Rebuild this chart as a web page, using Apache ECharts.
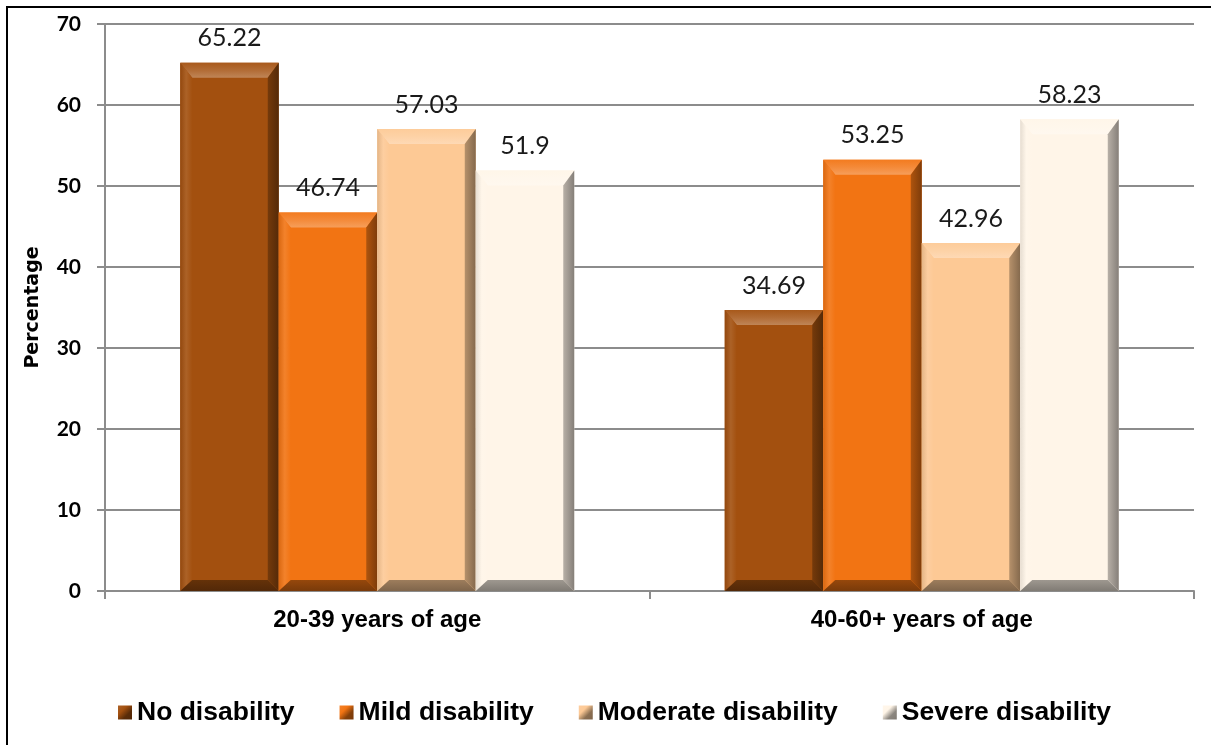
<!DOCTYPE html>
<html>
<head>
<meta charset="utf-8">
<script src="https://cdn.jsdelivr.net/npm/echarts@6/dist/echarts.min.js"></script>
<style>
  html, body { margin: 0; padding: 0; background: #fff; }
  #chart { width: 1211px; height: 745px; }
</style>
</head>
<body>
<div id="chart"></div>
<script>
// Age groups on the x axis
const categories = ['20-39 years of age', '40-60+ years of age'];
// Disability levels (one series each)
const seriesNames = ['No disability', 'Mild disability', 'Moderate disability', 'Severe disability'];
// Percentages per age group
const noDisability = [65.22, 34.69];
const mildDisability = [46.74, 53.25];
const moderateDisability = [57.03, 42.96];
const severeDisability = [51.9, 58.23];
// Value axis range
const yMin = 0;
const yMax = 70;
const yStep = 10;

const seriesValues = [noDisability, mildDisability, moderateDisability, severeDisability];
const baseColors = ['#A3500F', '#F27413', '#FDC995', '#FFF5E8'];

const CAT_GAP = 0.2764;   // empty share of each category band

function hexToRgb(h) {
  const n = parseInt(h.slice(1), 16);
  return [(n >> 16) & 255, (n >> 8) & 255, n & 255];
}
function mix(h, target, t) {
  const a = hexToRgb(h), b = target === 'w' ? [255, 255, 255] : [0, 0, 0];
  const c = a.map((v, i) => Math.round(v + (b[i] - v) * t));
  return 'rgb(' + c.join(',') + ')';
}
function lin(x, y, x2, y2, stops) {
  return new echarts.graphic.LinearGradient(x, y, x2, y2,
    stops.map((c, i) => ({ offset: i / (stops.length - 1), color: c })));
}

// Bevelled bar: a flat face framed by four shaded facets
function makeRender(k) {
  const base = baseColors[k];
  const nSeries = seriesValues.length;
  return function (params, api) {
    const ci = api.value(0);
    const v = api.value(1);
    const topPt = api.coord([ci, v]);
    const basePt = api.coord([ci, 0]);
    const band = api.size([1, 0])[0];
    const bw = band * (1 - CAT_GAP) / nSeries;
    const x0 = topPt[0] - bw * nSeries / 2 + k * bw;
    const x1 = x0 + bw;
    const y0 = topPt[1];
    const y1 = basePt[1];
    const h = y1 - y0;
    const s = Math.min(1, h / 40);
    const bt = 15 * s, bb = 11 * s, bl = 12, br = 11;

    const children = [
      { type: 'rect', shape: { x: x0, y: y0, width: bw, height: h },
        style: { fill: base } },
      // top facet
      { type: 'polygon', shape: { points: [[x0, y0], [x1, y0], [x1 - br, y0 + bt], [x0 + bl, y0 + bt]] },
        style: { fill: lin(0, 0, 0, 1, [mix(base, 'w', 0.05), mix(base, 'w', 0.16), mix(base, 'w', 0.3)]) } },
      // left facet
      { type: 'polygon', shape: { points: [[x0, y0], [x0 + bl, y0 + bt], [x0 + bl, y1 - bb], [x0, y1]] },
        style: { fill: lin(0, 0, 1, 0, [mix(base, 'k', 0.1), mix(base, 'w', 0.1), base]) } },
      // right facet
      { type: 'polygon', shape: { points: [[x1, y0], [x1 - br, y0 + bt], [x1 - br, y1 - bb], [x1, y1]] },
        style: { fill: lin(0, 0, 1, 0, [mix(base, 'k', 0.28), mix(base, 'k', 0.48)]) } },
      // bottom facet
      { type: 'polygon', shape: { points: [[x0, y1], [x0 + bl, y1 - bb], [x1 - br, y1 - bb], [x1, y1]] },
        style: { fill: lin(0, 0, 0, 1, [mix(base, 'k', 0.38), mix(base, 'k', 0.5)]) } },
      // value label
      { type: 'text',
        style: { text: String(v), x: (x0 + x1) / 2, y: y0 - 12,
                 align: 'center', verticalAlign: 'bottom',
                 font: '25px Lato', fill: '#1a1a1a' } }
    ];
    return { type: 'group', children: children };
  };
}

const series = seriesNames.map((name, k) => ({
  name: name,
  type: 'custom',
  renderItem: makeRender(k),
  itemStyle: { color: baseColors[k] },
  encode: { x: 0, y: 1 },
  clip: false,
  data: seriesValues[k].map((v, i) => [i, v])
}));

const chart = echarts.init(document.getElementById('chart'), null, { renderer: 'canvas' });
chart.setOption({
  animation: false,
  backgroundColor: '#fff',
  grid: { left: 105, right: 17, top: 24, bottom: 154, containLabel: false },
  legend: {
    left: 118,
    top: 699,
    padding: 0,
    icon: 'rect',
    itemWidth: 14,
    itemHeight: 14,
    itemGap: 45,
    textStyle: { fontFamily: 'Liberation Sans', fontWeight: 'bold', fontSize: 26.5, color: '#000' },
    data: seriesNames.map((n, k) => ({
      name: n,
      itemStyle: { color: lin(0, 0, 1, 1, [mix(baseColors[k], 'w', 0.1), baseColors[k], mix(baseColors[k], 'k', 0.45), mix(baseColors[k], 'k', 0.5)]) }
    }))
  },
  xAxis: {
    type: 'category',
    data: categories,
    boundaryGap: true,
    axisLine: { show: true, lineStyle: { color: '#8c8c8c', width: 2 } },
    axisTick: { show: true, length: 8, lineStyle: { color: '#8c8c8c', width: 2 } },
    axisLabel: { margin: 17, color: '#000', fontFamily: 'Liberation Sans', fontWeight: 'bold', fontSize: 24 },
    splitLine: { show: false }
  },
  yAxis: {
    type: 'value',
    min: yMin,
    max: yMax,
    interval: yStep,
    name: 'Percentage',
    nameLocation: 'middle',
    nameRotate: 90,
    nameGap: 62,
    nameTextStyle: { fontFamily: 'DejaVu Sans', fontWeight: 'bold', fontSize: 19, color: '#000' },
    axisLine: { show: true, lineStyle: { color: '#8c8c8c', width: 2 } },
    axisTick: { show: true, length: 8, lineStyle: { color: '#8c8c8c', width: 2 } },
    axisLabel: { margin: 24, color: '#000', fontFamily: 'Lato', fontWeight: 'bold', fontSize: 21 },
    splitLine: { show: true, lineStyle: { color: '#8c8c8c', width: 2 } }
  },
  graphic: [
    { type: 'rect', silent: true, z: 100,
      shape: { x: 7, y: 7, width: 1240, height: 780 },
      style: { fill: 'none', stroke: '#000', lineWidth: 2 } }
  ],
  series: series
});
</script>
</body>
</html>
